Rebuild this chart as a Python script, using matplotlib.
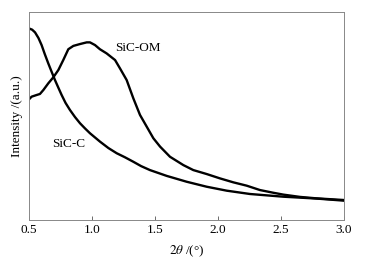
import matplotlib
matplotlib.use("Agg")
import matplotlib.pyplot as plt

plt.rcParams['font.family'] = ['Liberation Serif', 'DejaVu Serif']
plt.rcParams['mathtext.fontset'] = 'stix'

sic_c_x = [0.5, 0.525, 0.548, 0.575, 0.60, 0.625, 0.653, 0.68, 0.706, 0.733, 0.759, 0.79, 0.825,
           0.865, 0.905, 0.945, 0.984, 1.063, 1.13, 1.196, 1.26, 1.328, 1.39,
           1.46, 1.593, 1.751, 1.91, 2.069, 2.254, 2.519, 2.783, 3.0]
sic_c_y = [0.921, 0.915, 0.902, 0.875, 0.841, 0.798, 0.753, 0.712, 0.673, 0.636, 0.601, 0.563, 0.529,
           0.495, 0.465, 0.440, 0.417, 0.377, 0.346, 0.321, 0.302, 0.280, 0.259,
           0.240, 0.212, 0.184, 0.160, 0.141, 0.125, 0.112, 0.103, 0.093]

sic_om_x = [0.5, 0.521, 0.561, 0.587, 0.614, 0.653, 0.693, 0.733, 0.772, 0.812, 0.852, 0.905,
            0.958, 0.984, 1.024, 1.063, 1.116, 1.183, 1.222, 1.275, 1.328, 1.381, 1.434, 1.487,
            1.540, 1.619, 1.725, 1.804, 1.910, 2.016, 2.122, 2.228, 2.333, 2.439, 2.519, 2.651,
            2.783, 3.0]
sic_om_y = [0.580, 0.593, 0.601, 0.606, 0.625, 0.657, 0.686, 0.721, 0.769, 0.821, 0.837, 0.846,
            0.854, 0.854, 0.841, 0.821, 0.801, 0.769, 0.729, 0.673, 0.585, 0.505, 0.449, 0.393,
            0.353, 0.304, 0.264, 0.240, 0.221, 0.200, 0.181, 0.165, 0.144, 0.131, 0.122, 0.111,
            0.104, 0.096]

xticks = [0.5, 1.0, 1.5, 2.0, 2.5, 3.0]

fig = plt.figure(figsize=(3.7, 2.63), dpi=100)
ax = fig.add_axes([29/370, 1 - 220/263, (344-29)/370, (220-12)/263])
ax.plot(sic_c_x, sic_c_y, color='black', lw=1.7, solid_joinstyle='round')
ax.plot(sic_om_x, sic_om_y, color='black', lw=1.7, solid_joinstyle='round')
ax.set_xlim(0.5, 3.0)
ax.set_ylim(0, 1)
ax.set_xticks(xticks)
ax.set_xticklabels([f"{t:.1f}" for t in xticks])
ax.set_yticks([])
ax.tick_params(axis='x', direction='in', length=3, width=0.6, color='#555555',
               labelsize=9.5, pad=3)
for s in ax.spines.values():
    s.set_color('#888888')
    s.set_linewidth(0.7)
ax.text(1.183, 0.825, 'SiC-OM', fontsize=9.5, va='center', ha='left')
ax.text(0.68, 0.365, 'SiC-C', fontsize=9.5, va='center', ha='left')
ax.set_xlabel(r'$2\theta$ /(°)', fontsize=9.5, labelpad=5)
ax.set_ylabel('Intensity /(a.u.)', fontsize=9.5, labelpad=4)
fig.savefig('out.png', dpi=100)
